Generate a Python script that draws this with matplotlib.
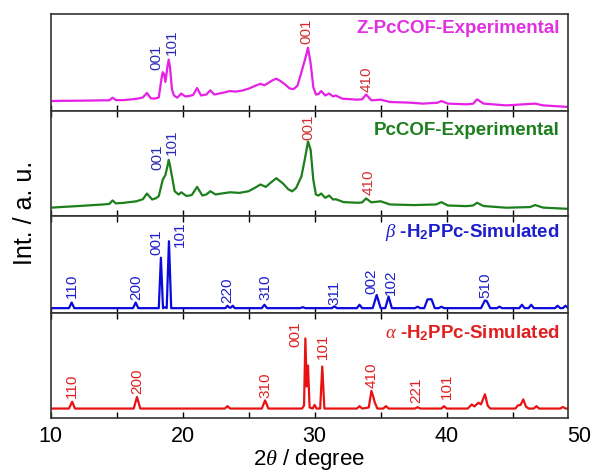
import matplotlib
matplotlib.use('Agg')
import matplotlib.pyplot as plt
from matplotlib.ticker import MultipleLocator

plt.rcParams['font.family'] = ['Liberation Sans', 'DejaVu Sans']
plt.rcParams['mathtext.fontset'] = 'custom'
plt.rcParams['mathtext.rm'] = 'Liberation Sans'
plt.rcParams['mathtext.it'] = 'Liberation Serif:italic'
plt.rcParams['mathtext.bf'] = 'Liberation Sans:bold'

# ---------------- data (2theta in degrees, intensity in panel fraction) ----------------
zpc_x = [10, 11, 12, 13, 14, 14.45, 14.7, 14.95, 15.5, 16.5, 17.0, 17.3, 17.6, 17.9, 18.2, 18.4, 18.5,
         18.6, 18.7, 18.85, 18.95, 19.05, 19.2, 19.35, 19.6, 19.9, 20.2, 20.5, 20.8, 21.1, 21.4, 21.8,
         22.1, 22.4, 23.0, 23.6, 24.0, 24.5, 25.0, 25.5, 25.9, 26.2, 26.5, 26.8, 27.1, 27.4, 27.8, 28.1,
         28.4, 28.7, 29.0, 29.25, 29.5, 29.7, 29.9, 30.1, 30.3, 30.5, 30.8, 31.1, 31.4, 31.6, 32.1, 33.2,
         33.6, 33.9, 34.3, 35.0, 35.7, 37.2, 38.2, 39.3, 39.6, 40.1, 41.5, 42.0, 42.3, 42.8, 44.5, 46.7,
         47.3, 49.3, 50]
zpc_y = [0.103, 0.105, 0.106, 0.108, 0.11, 0.11, 0.137, 0.112, 0.112, 0.125, 0.14, 0.186, 0.13, 0.128,
         0.14, 0.33, 0.40, 0.38, 0.30, 0.45, 0.53, 0.45, 0.22, 0.16, 0.137, 0.18, 0.15, 0.155, 0.165,
         0.237, 0.16, 0.17, 0.213, 0.17, 0.186, 0.206, 0.20, 0.21, 0.23, 0.26, 0.28, 0.265, 0.29, 0.316,
         0.333, 0.31, 0.27, 0.233, 0.225, 0.26, 0.40, 0.52, 0.653, 0.49, 0.247, 0.17, 0.175, 0.206, 0.16,
         0.18, 0.15, 0.16, 0.127, 0.117, 0.12, 0.17, 0.11, 0.117, 0.093, 0.086, 0.076, 0.085, 0.103,
         0.076, 0.069, 0.075, 0.12, 0.076, 0.058, 0.076, 0.058, 0.041, 0.034]

pc_x = [10, 11, 12, 13, 14, 14.45, 14.7, 14.95, 15.5, 16.5, 17.0, 17.3, 17.7, 18.0, 18.2, 18.5, 18.7,
        18.85, 18.95, 19.05, 19.2, 19.4, 19.7, 19.9, 20.3, 20.7, 21.1, 21.5, 21.8, 22.1, 22.5, 23.0,
        23.6, 24.3, 25.0, 25.5, 25.9, 26.3, 26.7, 27.1, 27.6, 28.0, 28.3, 28.6, 29.0, 29.25, 29.5, 29.7,
        29.9, 30.1, 30.3, 30.5, 30.8, 31.1, 31.4, 31.6, 32.2, 33.3, 33.6, 33.9, 34.3, 35.0, 35.7, 37.5,
        39.2, 39.6, 40.1, 41.5, 42.0, 42.3, 42.8, 44.5, 46.3, 46.7, 47.3, 50]
pc_y = [0.079, 0.087, 0.094, 0.102, 0.11, 0.115, 0.148, 0.12, 0.125, 0.14, 0.16, 0.214, 0.157, 0.17,
        0.19, 0.346, 0.39, 0.47, 0.535, 0.48, 0.377, 0.236, 0.204, 0.226, 0.19, 0.2, 0.277, 0.195,
        0.205, 0.236, 0.205, 0.215, 0.226, 0.22, 0.236, 0.27, 0.30, 0.277, 0.32, 0.36, 0.31, 0.255,
        0.235, 0.267, 0.377, 0.535, 0.71, 0.63, 0.346, 0.204, 0.195, 0.214, 0.173, 0.195, 0.157, 0.16,
        0.132, 0.126, 0.13, 0.167, 0.13, 0.14, 0.11, 0.104, 0.11, 0.132, 0.1, 0.094, 0.1, 0.126, 0.095,
        0.079, 0.085, 0.104, 0.08, 0.063]

beta_x = [10, 11.4, 11.6, 11.8, 16.25, 16.45, 16.65, 18.2, 18.36, 18.52, 18.65, 18.8, 18.97, 19.14,
          23.25, 23.4, 23.55, 23.65, 23.8, 23.95, 26.0, 26.2, 26.4, 28.9, 29.1, 29.3, 31.3, 31.5, 31.7,
          33.2, 33.4, 33.6, 34.4, 34.7, 35.0, 35.35, 35.6, 35.85, 37.6, 37.8, 38.0, 38.3, 38.55, 38.85,
          39.1, 39.4, 39.6, 39.8, 42.6, 42.9, 43.05, 43.3, 43.8, 44.0, 44.2, 45.5, 45.7, 45.9, 46.2,
          46.4, 46.6, 48.2, 48.4, 48.6, 48.8, 49.0, 49.2, 50]
beta_y = [0.05, 0.05, 0.108, 0.05, 0.05, 0.108, 0.05, 0.05, 0.57, 0.05, 0.06, 0.05, 0.74, 0.05, 0.05,
          0.075, 0.055, 0.055, 0.075, 0.05, 0.05, 0.085, 0.05, 0.05, 0.06, 0.05, 0.05, 0.068, 0.05,
          0.05, 0.085, 0.05, 0.05, 0.186, 0.05, 0.05, 0.17, 0.05, 0.05, 0.065, 0.05, 0.05, 0.14, 0.142,
          0.05, 0.05, 0.065, 0.05, 0.05, 0.13, 0.12, 0.05, 0.05, 0.065, 0.05, 0.05, 0.085, 0.05, 0.05,
          0.085, 0.05, 0.05, 0.075, 0.05, 0.05, 0.075, 0.05, 0.05]

alpha_x = [10, 11.4, 11.64, 11.85, 16.3, 16.55, 16.8, 23.2, 23.4, 23.6, 26.0, 26.25, 26.5, 29.05, 29.2,
           29.3, 29.4, 29.5, 29.62, 29.85, 30.0, 30.15, 30.42, 30.58, 30.74, 33.2, 33.4, 33.6, 34.1,
           34.3, 34.45, 34.55, 34.75, 35.2, 35.4, 35.6, 37.6, 37.8, 38.0, 39.6, 39.8, 40.0, 41.6, 41.9,
           42.1, 42.4, 42.6, 42.9, 43.1, 43.3, 45.2, 45.4, 45.6, 45.8, 46.0, 46.2, 46.6, 46.8, 47.0,
           48.6, 48.8, 49.0, 50]
alpha_y = [0.09, 0.09, 0.155, 0.09, 0.09, 0.2, 0.09, 0.09, 0.113, 0.09, 0.09, 0.168, 0.09, 0.09, 0.12,
           0.758, 0.3, 0.5, 0.1, 0.09, 0.125, 0.09, 0.09, 0.49, 0.09, 0.09, 0.113, 0.09, 0.1, 0.258,
           0.2, 0.15, 0.09, 0.09, 0.113, 0.09, 0.09, 0.103, 0.09, 0.09, 0.113, 0.09, 0.09, 0.129, 0.11,
           0.145, 0.13, 0.226, 0.12, 0.09, 0.09, 0.12, 0.125, 0.177, 0.11, 0.09, 0.09, 0.113, 0.09, 0.09,
           0.105, 0.09, 0.09]

# peak labels: (text, 2theta, bottom of text, colour key)
zpc_labels = [('001', 18.0, 0.42, 'b'), ('101', 19.2, 0.574, 'b'), ('001', 29.37, 0.694, 'r'),
              ('410', 33.97, 0.196, 'r')]
pc_labels = [('001', 18.06, 0.44, 'b'), ('101', 19.2, 0.58, 'b'), ('001', 29.5, 0.72, 'r'),
             ('410', 34.1, 0.204, 'r')]
beta_labels = [('110', 11.64, 0.153), ('200', 16.5, 0.129), ('001', 18.0, 0.60), ('101', 19.77, 0.68),
               ('220', 23.4, 0.108), ('310', 26.25, 0.129), ('311', 31.5, 0.085), ('002', 34.3, 0.20),
               ('102', 35.74, 0.186), ('510', 42.9, 0.153)]
alpha_labels = [('110', 11.64, 0.187), ('200', 16.55, 0.226), ('310', 26.25, 0.194), ('001', 28.56, 0.677),
                ('101', 30.63, 0.565), ('410', 34.3, 0.29), ('221', 37.7, 0.145), ('101', 39.99, 0.177)]

titles = ['Z-PcCOF-Experimental', 'PcCOF-Experimental',
          r'$\beta$ -H$_{\mathbf{2}}$PPc-Simulated', r'$\alpha$ -H$_{\mathbf{2}}$PPc-Simulated']
x_ticks = [10, 20, 30, 40]
x_extra_label = 50
x_range = (10, 49.15)

# ---------------- styles ----------------
line_colors = ['#E620E6', '#1C7F1C', '#0A0ADC', '#E81212']
title_colors = ['#E030E0', '#1E7F1E', '#1E1ECC', '#E02020']
ann_colors = {'b': '#2B2BB0', 'r': '#D43030'}
TICK_FS = 15.5
TICK_PAD = 5.5

fig = plt.figure(figsize=(5.96, 4.75), dpi=100)
gs = fig.add_gridspec(4, 1, height_ratios=[97, 105, 97, 105], hspace=0,
                      left=50.5 / 596, right=567.5 / 596, bottom=1 - 418 / 475, top=1 - 14 / 475)
axes = []
for i in range(4):
    ax = fig.add_subplot(gs[i], sharex=axes[0] if axes else None)
    axes.append(ax)

series = [(zpc_x, zpc_y), (pc_x, pc_y), (beta_x, beta_y), (alpha_x, alpha_y)]
title_y = [0.855, 0.81, 0.825, 0.805]

for i, ax in enumerate(axes):
    x, y = series[i]
    ax.plot(x, y, color=line_colors[i], lw=1.6, solid_joinstyle='round')
    ax.set_xlim(*x_range)
    ax.set_ylim(0, 1)
    ax.set_yticks([])
    ax.xaxis.set_major_locator(MultipleLocator(10))
    ax.xaxis.set_minor_locator(MultipleLocator(5))
    ax.tick_params(axis='x', which='both', direction='in', length=4, width=1,
                   top=(i > 0), bottom=True, labelbottom=(i == 3), labelsize=TICK_FS, pad=TICK_PAD)
    for sp in ax.spines.values():
        sp.set_linewidth(1.2)
        sp.set_color('#333333')
    ax.text(0.985, title_y[i], titles[i], transform=ax.transAxes, ha='right', va='center',
            fontsize=13.5, fontweight='bold', color=title_colors[i])

for s, xx, yy, c in zpc_labels:
    axes[0].text(xx, yy, s, rotation=90, ha='center', va='bottom', fontsize=11, color=ann_colors[c])
for s, xx, yy, c in pc_labels:
    axes[1].text(xx, yy, s, rotation=90, ha='center', va='bottom', fontsize=11, color=ann_colors[c])
for s, xx, yy in beta_labels:
    axes[2].text(xx, yy, s, rotation=90, ha='center', va='bottom', fontsize=11, color='#1E1ECC')
for s, xx, yy in alpha_labels:
    axes[3].text(xx, yy, s, rotation=90, ha='center', va='bottom', fontsize=11, color='#E02020')

axes[3].set_xticks(x_ticks)
# the "50" label sits just beyond the right frame, as in the original
axes[3].annotate(str(x_extra_label), xy=(x_extra_label, 0), xycoords=('data', 'axes fraction'),
                 xytext=(0, -TICK_PAD), textcoords='offset points', ha='center', va='top',
                 fontsize=TICK_FS, annotation_clip=False)
axes[3].set_xlabel(r'2$\theta$ / degree', fontsize=16, labelpad=0)
fig.text(24.5 / 596, 1 - 213 / 475, 'Int. / a. u.', rotation=90, ha='center', va='center', fontsize=18)

fig.savefig('out.png', dpi=100)
